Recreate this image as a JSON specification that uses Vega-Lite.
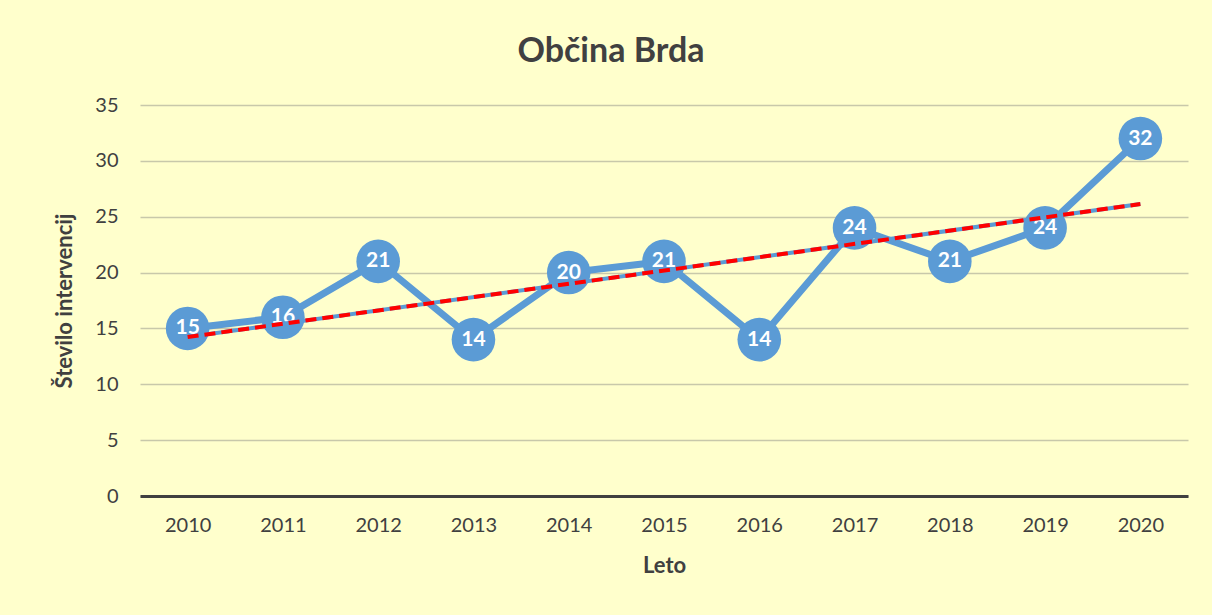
{
  "$schema": "https://vega.github.io/schema/vega-lite/v6.json",
  "autosize": {"type": "none"},
  "width": 1048,
  "height": 391,
  "padding": {"left": 140, "top": 105, "right": 24, "bottom": 119},
  "background": "#FFFFCC",
  "title": {
    "text": "Občina Brda",
    "font": "Lato",
    "fontSize": 34,
    "fontWeight": "bold",
    "color": "#404040",
    "anchor": "middle",
    "dx": -53,
    "offset": 26
  },
  "config": {
    "view": {"stroke": null},
    "font": "Lato",
    "axis": {
      "labelFont": "Lato",
      "labelFontSize": 20,
      "labelColor": "#404040",
      "titleFont": "Lato",
      "titleFontSize": 22,
      "titleFontWeight": "bold",
      "titleColor": "#404040",
      "ticks": false
    }
  },
  "data": {
    "values": [
      {"leto": 2010, "st": 15},
      {"leto": 2011, "st": 16},
      {"leto": 2012, "st": 21},
      {"leto": 2013, "st": 14},
      {"leto": 2014, "st": 20},
      {"leto": 2015, "st": 21},
      {"leto": 2016, "st": 14},
      {"leto": 2017, "st": 24},
      {"leto": 2018, "st": 21},
      {"leto": 2019, "st": 24},
      {"leto": 2020, "st": 32}
    ]
  },
  "encoding": {
    "x": {
      "field": "leto",
      "type": "quantitative",
      "scale": {"domain": [2009.5, 2020.5], "nice": false, "zero": false},
      "axis": {
        "title": "Leto",
        "values": [2010, 2011, 2012, 2013, 2014, 2015, 2016, 2017, 2018, 2019, 2020],
        "format": "d",
        "grid": false,
        "domainColor": "#404040",
        "domainWidth": 3,
        "labelPadding": 19,
        "titlePadding": 20
      }
    },
    "y": {
      "field": "st",
      "type": "quantitative",
      "scale": {"domain": [0, 35], "nice": false},
      "axis": {
        "title": "Število intervencij",
        "values": [0, 5, 10, 15, 20, 25, 30, 35],
        "domain": false,
        "gridColor": "#C8C8AA",
        "gridWidth": 1.5,
        "labelPadding": 22,
        "titlePadding": 18
      }
    }
  },
  "layer": [
    {
      "mark": {"type": "line", "color": "#5B9BD5", "strokeWidth": 7}
    },
    {
      "mark": {"type": "point", "shape": "circle", "filled": true, "opacity": 1, "color": "#5B9BD5", "size": 1900}
    },
    {
      "mark": {"type": "text", "color": "#FFFFFF", "font": "Lato", "fontSize": 21, "fontWeight": "bold", "baseline": "middle", "align": "center"},
      "encoding": {"text": {"field": "st", "type": "quantitative"}}
    },
    {
      "transform": [{"regression": "st", "on": "leto"}],
      "mark": {"type": "line", "color": "#5B9BD5", "strokeWidth": 4}
    },
    {
      "transform": [{"regression": "st", "on": "leto"}],
      "mark": {"type": "line", "color": "#FF0000", "strokeWidth": 4, "strokeDash": [11, 6]}
    }
  ]
}
